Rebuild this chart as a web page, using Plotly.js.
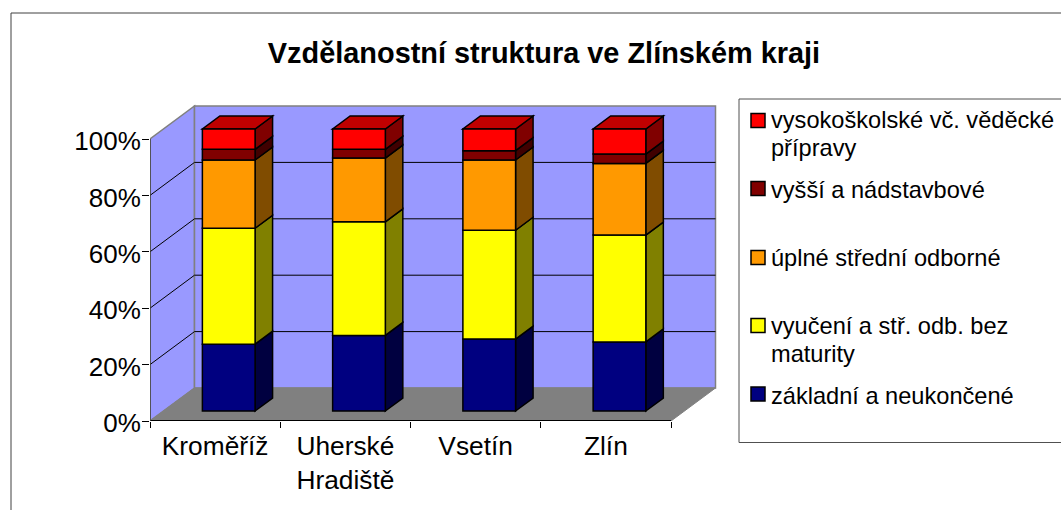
<!DOCTYPE html>
<html>
<head>
<meta charset="utf-8">
<script src="https://cdn.plot.ly/plotly-3.0.1.min.js"></script>
<style>html,body{margin:0;padding:0;background:#fff;overflow:hidden}</style>
</head>
<body>
<div id="chart" style="width:1061px;height:510px"></div>
<script>
const categories = ['Kroměříž', 'Uherské<br>Hradiště', 'Vsetín', 'Zlín'];
const zakladni = [23.7, 26.8, 25.5, 24.5];
const vyuceni = [41.1, 40.3, 38.6, 37.9];
const uplne = [24.2, 22.6, 24.9, 25.4];
const vyssi = [3.8, 3.1, 3.3, 3.3];
const vysokoskolske = [7.2, 7.2, 7.7, 8.9];
const seriesNames = ['základní a neukončené', 'vyučení a stř. odb. bez<br>maturity', 'úplné střední odborné', 'vyšší a nádstavbové', 'vysokoškolské vč. věděcké<br>přípravy'];
const seriesValues = [zakladni, vyuceni, uplne, vyssi, vysokoskolske];
const frontColors = ['#000080', '#FFFF00', '#FF9900', '#800000', '#FF0000'];
const sideColors = ['#000040', '#808000', '#804C00', '#400000', '#800000'];
const topColor = '#C00000';
const yTicks = [0, 20, 40, 60, 80, 100];

// plot geometry
const W = 1061, H = 510, L = 150, R = 720, T = 100, B = 421;
const pxPerCat = 130.25, pxPerPct = 2.82;
const ux = px => px / pxPerCat, uy = px => px / pxPerPct;
const wallDx = ux(44.5), wallDy = uy(33);
const barW = ux(52.7), barShift = ux(13.6), barLift = uy(10);
const depthDx = ux(17.5), depthDy = uy(13);
const nCat = categories.length;
const FONT = '"Liberation Sans", Arial, sans-serif';

const paperX = px => (px - L) / (R - L);
const paperY = py => (B - py) / (B - T);
const poly = pts => 'M' + pts.map(p => p[0] + ',' + p[1]).join('L') + 'Z';

const shapes = [];
const dataShape = (pts, fill, color, width) => shapes.push({
  type: 'path', xref: 'x', yref: 'y', layer: 'below', path: poly(pts),
  fillcolor: fill, line: {color: color, width: width}
});
const dataLine = (x0, y0, x1, y1, color, width) => shapes.push({
  type: 'line', xref: 'x', yref: 'y', layer: 'below', x0, y0, x1, y1,
  line: {color: color, width: width}
});

// walls and floor
dataShape([[0, 0], [0, 100], [wallDx, 100 + wallDy], [wallDx, wallDy]], '#9999FF', '#808080', 1.5);
dataShape([[wallDx, wallDy], [wallDx, 100 + wallDy], [nCat + wallDx, 100 + wallDy], [nCat + wallDx, wallDy]], '#9999FF', '#808080', 1.5);
dataShape([[0, 0], [nCat, 0], [nCat + wallDx, wallDy], [wallDx, wallDy]], '#808080', '#808080', 1);
yTicks.slice(1, -1).forEach(v => {
  dataLine(0, v, wallDx, v + wallDy, '#000000', 1);
  dataLine(wallDx, v + wallDy, nCat + wallDx, v + wallDy, '#000000', 1);
});
dataLine(0, 0, nCat, 0, '#000000', 2);
dataLine(0, 0, 0, 100, '#404040', 1.5);

// bar depth faces
const traces = [];
const cum = categories.map(() => barLift);
seriesValues.forEach((vals, s) => {
  const bases = cum.slice();
  const xs = vals.map((_, i) => i + 0.5 + barShift);
  traces.push({
    type: 'bar', name: seriesNames[s].replace('<br>', ' '), x: xs, y: vals, base: bases, width: barW,
    marker: {color: frontColors[s], line: {color: '#000000', width: 1.5}},
    hovertemplate: '%{y}%<extra>' + seriesNames[s].replace('<br>', ' ') + '</extra>',
    showlegend: false
  });
  vals.forEach((v, i) => {
    const xr = xs[i] + barW / 2, y0 = bases[i], y1 = y0 + v;
    dataShape([[xr, y0], [xr + depthDx, y0 + depthDy], [xr + depthDx, y1 + depthDy], [xr, y1]], sideColors[s], '#000000', 1.5);
    if (s === seriesValues.length - 1) {
      const xl = xs[i] - barW / 2;
      dataShape([[xl, y1], [xr, y1], [xr + depthDx, y1 + depthDy], [xl + depthDx, y1 + depthDy]], topColor, '#000000', 1.5);
    }
    cum[i] += v;
  });
});

// chart frame and legend box
const paperRect = (x0, y0, x1, y1, color, width) => shapes.push({
  type: 'rect', xref: 'paper', yref: 'paper', layer: 'below',
  x0: paperX(x0), x1: paperX(x1), y0: paperY(y0), y1: paperY(y1),
  fillcolor: 'rgba(0,0,0,0)', line: {color: color, width: width}
});
paperRect(11, 13, 1100, 560, '#404040', 1);
paperRect(739, 99, 1100, 442.5, '#505050', 1);

// legend, top to bottom
const legendRows = [
  {s: 4, swatch: 120.5, lines: [120, 148]},
  {s: 3, swatch: 188.5, lines: [190]},
  {s: 2, swatch: 257.5, lines: [258]},
  {s: 1, swatch: 325.5, lines: [326, 354]},
  {s: 0, swatch: 394, lines: [396]}
];
const annotations = [];
legendRows.forEach(r => {
  shapes.push({
    type: 'rect', xref: 'paper', yref: 'paper', layer: 'below',
    x0: paperX(751), x1: paperX(765), y0: paperY(r.swatch + 7), y1: paperY(r.swatch - 7),
    fillcolor: frontColors[r.s], line: {color: '#000000', width: 1.5}
  });
  seriesNames[r.s].split('<br>').forEach((t, k) => annotations.push({
    xref: 'paper', yref: 'paper', x: paperX(771), y: paperY(r.lines[k]),
    xanchor: 'left', yanchor: 'middle', showarrow: false, text: t,
    xshift: -2, font: {family: FONT, size: 23.6, color: '#000000'}
  }));
});

const layout = {
  width: W, height: H, autosize: false,
  margin: {l: L, r: W - R, t: T, b: H - B, pad: 0},
  paper_bgcolor: '#FFFFFF', plot_bgcolor: 'rgba(0,0,0,0)',
  barmode: 'overlay', showlegend: false,
  title: {text: 'Vzdělanostní struktura ve Zlínském kraji', x: 544 / W, y: 1 - 53 / H,
    xanchor: 'center', yanchor: 'middle', font: {family: FONT, size: 28.9, weight: 700, color: '#000000'}},
  xaxis: {
    range: [0, (R - L) / pxPerCat], showgrid: false, zeroline: false, showline: false,
    tickmode: 'array', tickvals: categories.map((_, i) => i + 0.5), ticktext: categories,
    ticks: '', tickangle: 0, ticklabelstandoff: 7,
    minor: {tickmode: 'array', tickvals: categories.map((_, i) => i).concat([nCat]), ticks: 'outside', ticklen: 6, tickcolor: '#000000', tickwidth: 1, showgrid: false},
    tickfont: {family: FONT, size: 26.3, color: '#000000'}
  },
  yaxis: {
    range: [0, (B - T) / pxPerPct], showgrid: false, zeroline: false, showline: false,
    tickmode: 'array', tickvals: yTicks, ticktext: yTicks.map(v => v + '%'),
    ticks: 'outside', ticklen: 7, tickcolor: '#000000', tickwidth: 1, ticklabelstandoff: -4, ticklabelshift: 2,
    tickfont: {family: FONT, size: 26, color: '#000000'}
  },
  shapes: shapes,
  annotations: annotations
};
Plotly.newPlot('chart', traces, layout, {displayModeBar: false, staticPlot: true});
</script>
</body>
</html>
